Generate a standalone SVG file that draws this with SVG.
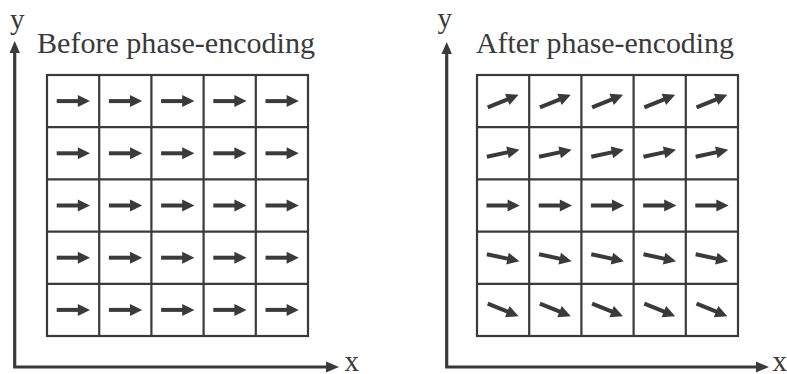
<svg xmlns="http://www.w3.org/2000/svg" xmlns:xlink="http://www.w3.org/1999/xlink" width="787" height="374" viewBox="0 0 787 374">
<style>
.lbl{fill:#3a3a3a}
.grid{fill:none;stroke:#3a3a3a;stroke-width:2.2}
.axis{fill:none;stroke:#3a3a3a;stroke-width:3.2}
.ah{fill:#3a3a3a}
</style>
<defs>
<g id="arr">
<path d="M-16.6,-2 H5.5 V2 H-16.6 Z" fill="#3a3a3a"/>
<path d="M4.5,-6 L16.7,0 L4.5,6 Z" fill="#3a3a3a"/>
</g>
<g id="gridlines">
<rect x="0" y="0" width="261" height="261" class="grid"/>
<path class="grid" d="M52.2,0V261M104.4,0V261M156.6,0V261M208.8,0V261M0,52.2H261M0,104.4H261M0,156.6H261M0,208.8H261"/>
</g>
</defs>

<g id="axes">
<path class="axis" d="M14.7,52 V367 H327"/>
<path class="ah" d="M14.7,41 L9.5,53 L19.9,53 Z"/>
<path class="ah" d="M339,367 L326,361.5 L326,372.5 Z"/>
<text class="lbl" font-family="Liberation Serif, serif" x="10" y="28.5" font-size="29">y</text>
<text class="lbl" font-family="Liberation Serif, serif" x="344.5" y="371" font-size="29">x</text>
<path class="axis" d="M446.7,53 V367 H757"/>
<path class="ah" d="M446.7,42 L441.5,54 L451.9,54 Z"/>
<path class="ah" d="M769,367 L756,361.5 L756,372.5 Z"/>
<text class="lbl" font-family="Liberation Serif, serif" x="437.5" y="27.5" font-size="29">y</text>
<text class="lbl" font-family="Liberation Serif, serif" x="772.5" y="371" font-size="29">x</text>
</g>

<g id="before">
<text class="lbl" font-family="Liberation Serif, serif" x="37" y="53" font-size="29" textLength="278" lengthAdjust="spacingAndGlyphs">Before phase-encoding</text>
<use xlink:href="#gridlines" href="#gridlines" transform="translate(47,75)"/>
<g id="before-arrows">
<use href="#arr" transform="translate(73.3,101.1)"/><use href="#arr" transform="translate(125.5,101.1)"/><use href="#arr" transform="translate(177.7,101.1)"/><use href="#arr" transform="translate(229.9,101.1)"/><use href="#arr" transform="translate(282.1,101.1)"/>
<use href="#arr" transform="translate(73.3,153.3)"/><use href="#arr" transform="translate(125.5,153.3)"/><use href="#arr" transform="translate(177.7,153.3)"/><use href="#arr" transform="translate(229.9,153.3)"/><use href="#arr" transform="translate(282.1,153.3)"/>
<use href="#arr" transform="translate(73.3,205.5)"/><use href="#arr" transform="translate(125.5,205.5)"/><use href="#arr" transform="translate(177.7,205.5)"/><use href="#arr" transform="translate(229.9,205.5)"/><use href="#arr" transform="translate(282.1,205.5)"/>
<use href="#arr" transform="translate(73.3,257.7)"/><use href="#arr" transform="translate(125.5,257.7)"/><use href="#arr" transform="translate(177.7,257.7)"/><use href="#arr" transform="translate(229.9,257.7)"/><use href="#arr" transform="translate(282.1,257.7)"/>
<use href="#arr" transform="translate(73.3,309.9)"/><use href="#arr" transform="translate(125.5,309.9)"/><use href="#arr" transform="translate(177.7,309.9)"/><use href="#arr" transform="translate(229.9,309.9)"/><use href="#arr" transform="translate(282.1,309.9)"/>
</g>
</g>

<g id="after">
<text class="lbl" font-family="Liberation Serif, serif" x="476" y="53" font-size="29" textLength="258" lengthAdjust="spacingAndGlyphs">After phase-encoding</text>
<use xlink:href="#gridlines" href="#gridlines" transform="translate(477,75)"/>
<g id="after-arrows">
<use href="#arr" transform="translate(503.1,101.1) rotate(-22)"/><use href="#arr" transform="translate(555.3,101.1) rotate(-22)"/><use href="#arr" transform="translate(607.5,101.1) rotate(-22)"/><use href="#arr" transform="translate(659.7,101.1) rotate(-22)"/><use href="#arr" transform="translate(711.9,101.1) rotate(-22)"/>
<use href="#arr" transform="translate(503.1,153.3) rotate(-12)"/><use href="#arr" transform="translate(555.3,153.3) rotate(-12)"/><use href="#arr" transform="translate(607.5,153.3) rotate(-12)"/><use href="#arr" transform="translate(659.7,153.3) rotate(-12)"/><use href="#arr" transform="translate(711.9,153.3) rotate(-12)"/>
<use href="#arr" transform="translate(503.1,205.5)"/><use href="#arr" transform="translate(555.3,205.5)"/><use href="#arr" transform="translate(607.5,205.5)"/><use href="#arr" transform="translate(659.7,205.5)"/><use href="#arr" transform="translate(711.9,205.5)"/>
<use href="#arr" transform="translate(503.1,257.7) rotate(12)"/><use href="#arr" transform="translate(555.3,257.7) rotate(12)"/><use href="#arr" transform="translate(607.5,257.7) rotate(12)"/><use href="#arr" transform="translate(659.7,257.7) rotate(12)"/><use href="#arr" transform="translate(711.9,257.7) rotate(12)"/>
<use href="#arr" transform="translate(503.1,309.9) rotate(22)"/><use href="#arr" transform="translate(555.3,309.9) rotate(22)"/><use href="#arr" transform="translate(607.5,309.9) rotate(22)"/><use href="#arr" transform="translate(659.7,309.9) rotate(22)"/><use href="#arr" transform="translate(711.9,309.9) rotate(22)"/>
</g>
</g>
</svg>
